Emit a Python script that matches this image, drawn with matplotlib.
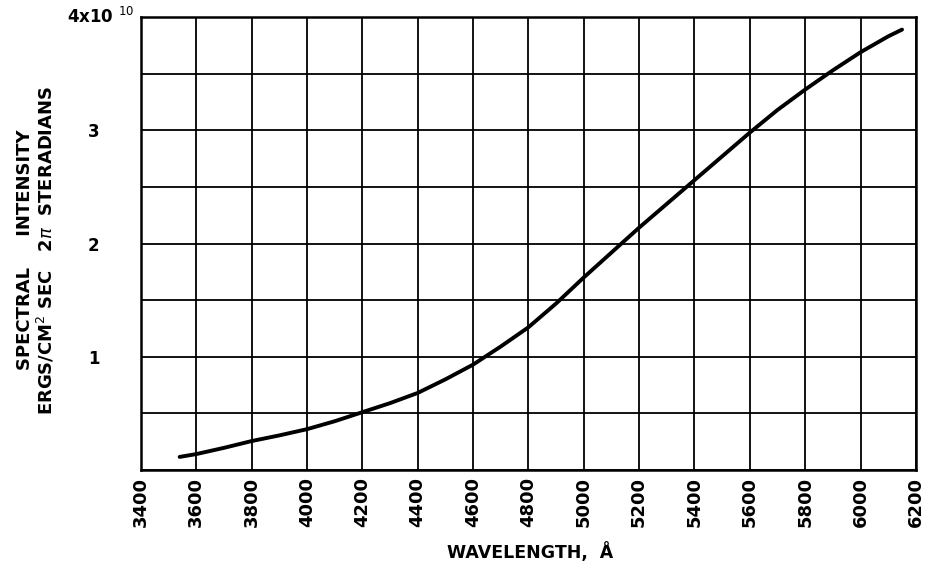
import matplotlib.pyplot as plt

# Spectral intensity curve, intensity in units of 1e10 ergs/cm^2 sec 2pi sr
wavelength = [3540, 3600, 3700, 3800, 3900, 4000, 4100, 4200, 4300, 4400,
              4500, 4600, 4700, 4800, 4900, 5000, 5100, 5200, 5300, 5400,
              5500, 5600, 5700, 5800, 5900, 6000, 6100, 6150]
intensity = [0.115, 0.14, 0.195, 0.255, 0.305, 0.36, 0.43, 0.51, 0.59, 0.68,
             0.80, 0.93, 1.09, 1.26, 1.47, 1.70, 1.92, 2.14, 2.35, 2.56,
             2.77, 2.98, 3.18, 3.36, 3.53, 3.69, 3.83, 3.89]

x_ticks = list(range(3400, 6201, 200))
y_ticks = [1, 2, 3]
y_grid = [0.5 * i for i in range(9)]

fig = plt.figure(figsize=(9.27, 5.71), dpi=100)
ax = fig.add_axes([0.152, 0.177, 0.836, 0.793])

ax.plot(wavelength, intensity, color='black', linewidth=2.8, solid_capstyle='round')

ax.set_xlim(3400, 6200)
ax.set_ylim(0, 4)

# grid drawn by hand so every half unit gets a line
for g in x_ticks:
    ax.axvline(g, color='black', linewidth=1.3, zorder=0)
for g in y_grid:
    ax.axhline(g, color='black', linewidth=1.3, zorder=0)

for side in ax.spines.values():
    side.set_linewidth(1.8)

ax.set_xticks(x_ticks)
ax.set_xticklabels([str(t) for t in x_ticks], rotation=90, fontsize=13,
                   fontweight='bold')
ax.set_yticks(y_ticks)
ax.set_yticklabels([str(t) for t in y_ticks], fontsize=12, fontweight='bold')
ax.tick_params(axis='both', length=0)
ax.tick_params(axis='x', pad=5)
ax.tick_params(axis='y', pad=30)

# top label carries the scale factor
ax.text(-0.008, 1.0, r'4x10 $^{10}$', transform=ax.transAxes, ha='right',
        va='center', fontsize=12, fontweight='bold')

fig.text(0.027, 0.562, 'SPECTRAL     INTENSITY', rotation=90, ha='center',
         va='center', fontsize=13, fontweight='bold')
fig.text(0.050, 0.562, r'ERGS/CM$^2$ SEC   2$\pi$  STERADIANS', rotation=90,
         ha='center', va='center', fontsize=13, fontweight='bold')
fig.text(0.572, 0.033, 'WAVELENGTH,  Å', ha='center', va='center',
         fontsize=12.5, fontweight='bold')

fig.savefig('out.png', dpi=100)
